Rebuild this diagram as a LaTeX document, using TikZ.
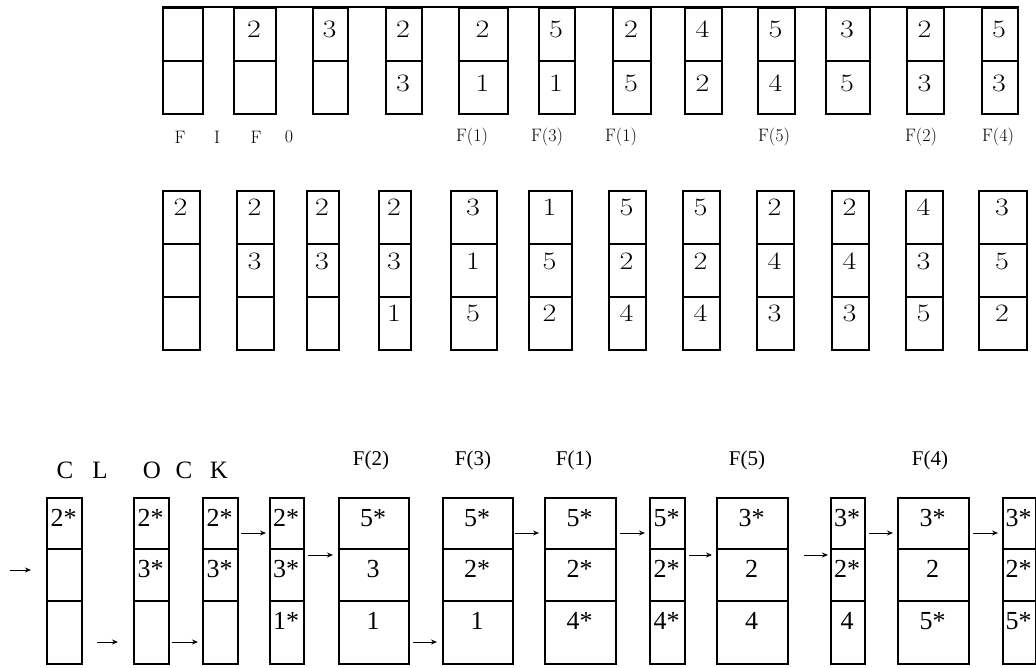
\documentclass[tikz,border=0pt]{standalone}
\usepackage{fontspec}
\usepackage{graphicx}
\usetikzlibrary{arrows.meta}
\newfontfamily\tms{Liberation Serif}
\newcommand\widen[1]{\scalebox{1.2}[1]{#1}}
\begin{document}
\begin{tikzpicture}[x=1pt,y=-1pt,
  cell/.style={draw, line width=2pt, inner sep=0pt, anchor=north west},
  numA/.style={inner sep=0pt, font=\fontsize{25}{25}\selectfont},
  numB/.style={inner sep=0pt, font=\tms\fontsize{26}{26}\selectfont},
  lblA/.style={inner sep=0pt, font=\fontsize{18}{18}\selectfont},
  lblB/.style={inner sep=0pt, font=\tms\fontsize{21}{21}\selectfont},
  lblC/.style={inner sep=0pt, font=\tms\fontsize{25}{25}\selectfont},
  arr/.style={-{Stealth[length=6pt,width=5pt]}, line width=1pt}]
\useasboundingbox (0,0) rectangle (1036,668);

% ---------- top row ----------
\foreach \i/\l/\r/\a/\b in {1/162/202/{}/{},2/233/275/2/{},3/312/347/3/{},4/385/421/2/3,
  5/458/507/2/1,6/538/574/5/1,7/612/650/2/5,8/684/721/4/2,9/757/794/5/4,
  10/825/869/3/5,11/906/943/2/3,12/981/1017/5/3}{
  \pgfmathsetmacro\w{\r-\l}
  \pgfmathsetmacro\xc{(\l+\r)/2}
  \node[cell, minimum width=\w pt, minimum height=53pt] (ta\i) at (\l,7) {};
  \node[cell, minimum width=\w pt, minimum height=53pt] (tb\i) at (\l,60) {};
  \node[numA] (tta\i) at (\xc,29) {\widen{\a}};
  \node[numA] (ttb\i) at (\xc,83) {\widen{\b}};
}
\draw[line width=2pt] (ta1.north west) -- (ta12.north east);

% ---------- FIFO labels ----------
\node[lblA] (fF1) at (180,137) {F};
\node[lblA] (fI)  at (217,137) {I};
\node[lblA] (fF2) at (256,137) {F};
\node[lblA] (fO)  at (289,137) {0};
\node[lblA] (fl1) at (472,137) {F(1)};
\node[lblA] (fl2) at (547,137) {F(3)};
\node[lblA] (fl3) at (621,137) {F(1)};
\node[lblA] (fl4) at (774,137) {F(5)};
\node[lblA] (fl5) at (921,137) {F(2)};
\node[lblA] (fl6) at (998,137) {F(4)};

% ---------- middle row ----------
\foreach \i/\l/\r/\a/\b/\c in {1/162/199/2/{}/{},2/236/273/2/3/{},3/306/338/2/3/{},
  4/378/410/2/3/1,5/450/496/3/1/5,6/528/571/1/5/2,7/608/645/5/2/4,8/682/719/5/2/4,
  9/756/793/2/4/3,10/831/868/2/4/3,11/905/942/4/3/5,12/978/1026/3/5/2}{
  \pgfmathsetmacro\w{\r-\l}
  \pgfmathsetmacro\xc{(\l+\r)/2}
  \node[cell, minimum width=\w pt, minimum height=53pt] (ma\i) at (\l,190) {};
  \node[cell, minimum width=\w pt, minimum height=53pt] (mb\i) at (\l,243) {};
  \node[cell, minimum width=\w pt, minimum height=53pt] (mc\i) at (\l,296) {};
  \node[numA] (mta\i) at (\xc,207) {\widen{\a}};
  \node[numA] (mtb\i) at (\xc,261) {\widen{\b}};
  \node[numA] (mtc\i) at (\xc,313) {\widen{\c}};
}

% ---------- CLOCK labels ----------
\node[lblC] (cC1) at (65,470) {C};
\node[lblC] (cL)  at (100,470) {L};
\node[lblC] (cO)  at (152,470) {O};
\node[lblC] (cC2) at (184,470) {C};
\node[lblC] (cK)  at (219,470) {K};
\node[lblB] (cl1) at (371,460) {F(2)};
\node[lblB] (cl2) at (473,460) {F(3)};
\node[lblB] (cl3) at (574,460) {F(1)};
\node[lblB] (cl4) at (747,460) {F(5)};
\node[lblB] (cl5) at (930,460) {F(4)};

% ---------- bottom row ----------
\foreach \i/\l/\r/\a/\b/\c in {1/46/81/2*/{}/{},2/133/168/2*/3*/{},3/202/237/2*/3*/{},
  4/269/303/2*/3*/1*,5/338/408/5*/3/1,6/442/512/5*/2*/1,7/544/615/5*/2*/4*,
  8/649/684/5*/2*/4*,9/716/787/3*/2/4,10/830/864/3*/2*/4,11/897/968/3*/2/5*,
  12/1002/1035/3*/2*/5*}{
  \pgfmathsetmacro\w{\r-\l}
  \pgfmathsetmacro\xc{(\l+\r)/2}
  \node[cell, minimum width=\w pt, minimum height=51pt] (ba\i) at (\l,497) {};
  \node[cell, minimum width=\w pt, minimum height=52pt] (bb\i) at (\l,548) {};
  \node[cell, minimum width=\w pt, minimum height=63pt] (bc\i) at (\l,600) {};
  \node[numB] (bta\i) at (\xc,518) {\a};
  \node[numB] (btb\i) at (\xc,569) {\b};
  \node[numB] (btc\i) at (\xc,621) {\c};
}

% ---------- arrows ----------
\foreach \k/\x/\X/\y in {0/10/31/570,1/97/118/642,2/172/198/642,3/241/266/533,
  4/308/333/555,5/413/437/642,6/515/539/533,7/620/645/533,8/689/712/555,
  9/804/828/555,10/869/893/533,11/973/998/533}{
  \coordinate (as\k) at (\x,\y);
  \coordinate (ae\k) at (\X,\y);
  \draw[arr] (as\k) -- (ae\k);
}
\end{tikzpicture}
\end{document}
